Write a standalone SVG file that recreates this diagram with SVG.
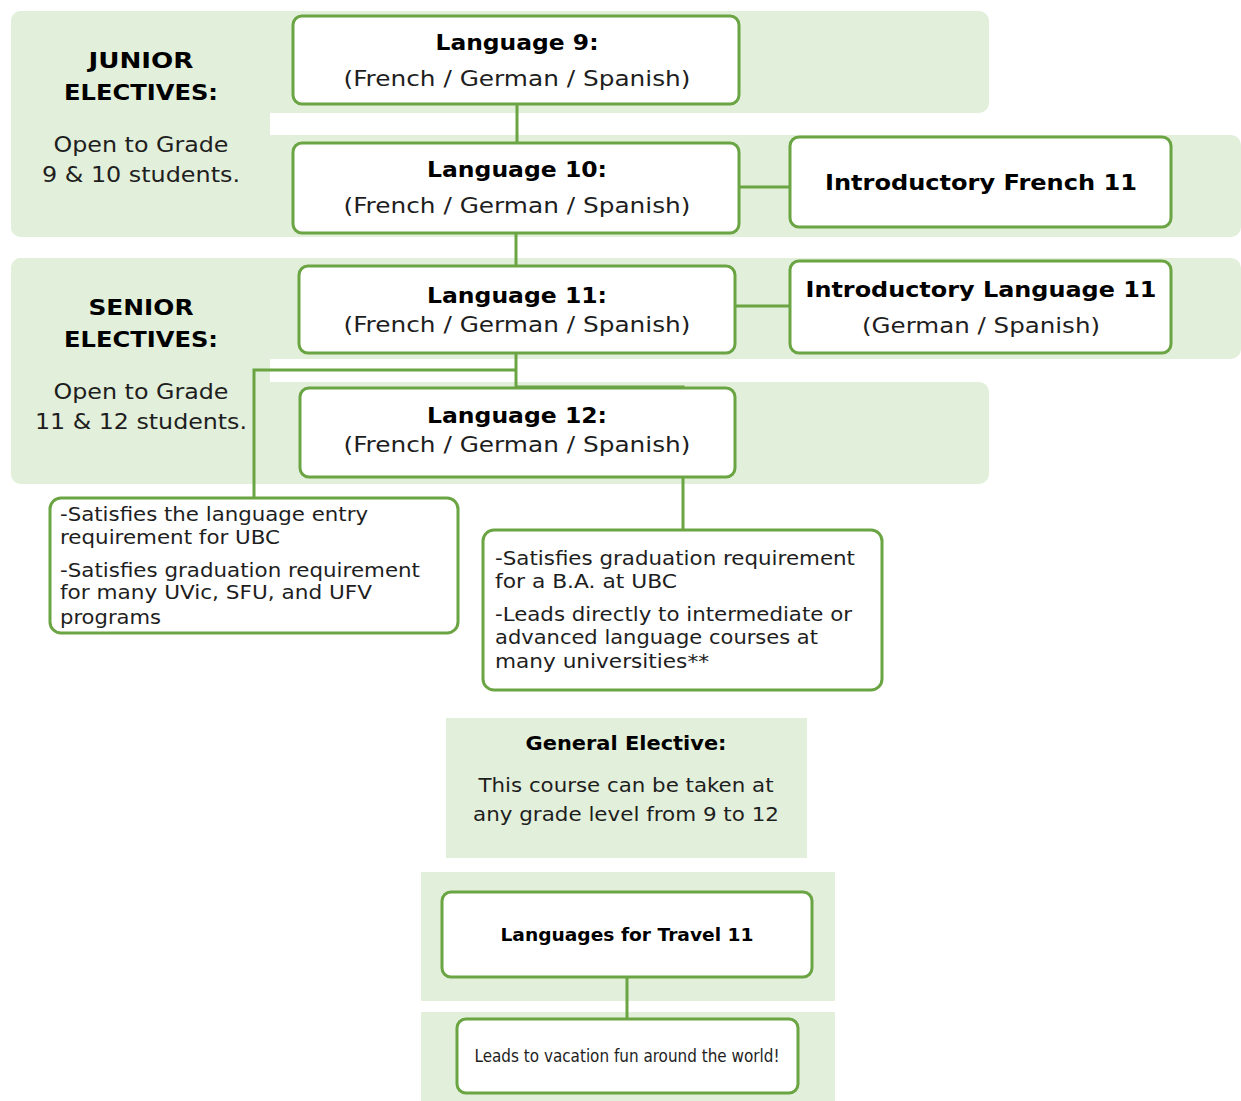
<svg xmlns="http://www.w3.org/2000/svg" width="1241" height="1101" viewBox="0 0 1241 1101">
<style>
.bg{fill:#e2efda}
.node{fill:#fff;stroke:#6aa443;stroke-width:3}
.con{fill:none;stroke:#6aa443;stroke-width:3}
text{font-family:"DejaVu Sans","Verdana",sans-serif;fill:#1e1e1e}
.b{font-weight:bold;fill:#000}
.t{font-size:22px}
.s{font-size:20px}
.c{text-anchor:middle}
</style>
<g id="backgrounds">
<rect class="bg" x="11" y="11" width="978" height="102" rx="10"/>
<rect class="bg" x="11" y="11" width="259" height="226" rx="10"/>
<rect class="bg" x="11" y="135" width="1230" height="102" rx="10"/>
<rect class="bg" x="11" y="258" width="1230" height="101" rx="10"/>
<rect class="bg" x="11" y="258" width="259" height="226" rx="10"/>
<rect class="bg" x="11" y="382" width="978" height="102" rx="10"/>
<rect class="bg" x="446" y="718" width="361" height="140"/>
<rect class="bg" x="421" y="872" width="414" height="129"/>
<rect class="bg" x="421" y="1012" width="414" height="89"/>
</g>
<g id="labels">
<text class="t b c" x="141" y="68" textLength="105" lengthAdjust="spacingAndGlyphs">JUNIOR</text>
<text class="t b c" x="141" y="100" textLength="154" lengthAdjust="spacingAndGlyphs">ELECTIVES:</text>
<text class="t c" x="141" y="152" textLength="175" lengthAdjust="spacingAndGlyphs">Open to Grade</text>
<text class="t c" x="141" y="182" textLength="198" lengthAdjust="spacingAndGlyphs">9 &amp; 10 students.</text>
<text class="t b c" x="141" y="315" textLength="105" lengthAdjust="spacingAndGlyphs">SENIOR</text>
<text class="t b c" x="141" y="347" textLength="154" lengthAdjust="spacingAndGlyphs">ELECTIVES:</text>
<text class="t c" x="141" y="399" textLength="175" lengthAdjust="spacingAndGlyphs">Open to Grade</text>
<text class="t c" x="141" y="429" textLength="212" lengthAdjust="spacingAndGlyphs">11 &amp; 12 students.</text>
<text class="b c" x="626" y="750" style="font-size:20px" textLength="201" lengthAdjust="spacingAndGlyphs">General Elective:</text>
<text class="c" x="626" y="792" style="font-size:20px" textLength="295" lengthAdjust="spacingAndGlyphs">This course can be taken at</text>
<text class="c" x="626" y="821" style="font-size:20px" textLength="306" lengthAdjust="spacingAndGlyphs">any grade level from 9 to 12</text>
</g>
<g id="connectors">
<path class="con" d="M517,104 V143"/>
<path class="con" d="M739,187 H790"/>
<path class="con" d="M516,233 V266"/>
<path class="con" d="M735,306 H790"/>
<path class="con" d="M516,353 V388"/>
<path class="con" d="M516,370 H254 V498"/>
<path class="con" d="M516,387 H683 V530"/>
<path class="con" d="M627,977 V1019"/>
</g>
<g id="lang9">
<rect class="node" x="293" y="16" width="446" height="88" rx="9"/>
<text class="t b c" x="517" y="50" textLength="163" lengthAdjust="spacingAndGlyphs">Language 9:</text>
<text class="t c" x="517" y="86" textLength="347" lengthAdjust="spacingAndGlyphs">(French / German / Spanish)</text>
</g>
<g id="lang10">
<rect class="node" x="293" y="143" width="446" height="90" rx="9"/>
<text class="t b c" x="517" y="177" textLength="180" lengthAdjust="spacingAndGlyphs">Language 10:</text>
<text class="t c" x="517" y="213" textLength="347" lengthAdjust="spacingAndGlyphs">(French / German / Spanish)</text>
</g>
<g id="introFrench11">
<rect class="node" x="790" y="137" width="381" height="90" rx="9"/>
<text class="t b c" x="981" y="190" textLength="312" lengthAdjust="spacingAndGlyphs">Introductory French 11</text>
</g>
<g id="lang11">
<rect class="node" x="299" y="266" width="436" height="87" rx="9"/>
<text class="t b c" x="517" y="303" textLength="180" lengthAdjust="spacingAndGlyphs">Language 11:</text>
<text class="t c" x="517" y="332" textLength="347" lengthAdjust="spacingAndGlyphs">(French / German / Spanish)</text>
</g>
<g id="introLang11">
<rect class="node" x="790" y="261" width="381" height="92" rx="9"/>
<text class="t b c" x="981" y="297" textLength="351" lengthAdjust="spacingAndGlyphs">Introductory Language 11</text>
<text class="t c" x="981" y="333" textLength="238" lengthAdjust="spacingAndGlyphs">(German / Spanish)</text>
</g>
<g id="lang12">
<rect class="node" x="300" y="388" width="435" height="89" rx="9"/>
<text class="t b c" x="517" y="423" textLength="180" lengthAdjust="spacingAndGlyphs">Language 12:</text>
<text class="t c" x="517" y="452" textLength="347" lengthAdjust="spacingAndGlyphs">(French / German / Spanish)</text>
</g>
<g id="ubcEntry">
<rect class="node" x="50" y="498" width="408" height="135" rx="11"/>
<text class="s" x="60" y="521" textLength="308" lengthAdjust="spacingAndGlyphs">-Satisfies the language entry</text>
<text class="s" x="60" y="544" textLength="220" lengthAdjust="spacingAndGlyphs">requirement for UBC</text>
<text class="s" x="60" y="577" textLength="360" lengthAdjust="spacingAndGlyphs">-Satisfies graduation requirement</text>
<text class="s" x="60" y="599" textLength="312" lengthAdjust="spacingAndGlyphs">for many UVic, SFU, and UFV</text>
<text class="s" x="60" y="624" textLength="101" lengthAdjust="spacingAndGlyphs">programs</text>
</g>
<g id="baGrad">
<rect class="node" x="483" y="530" width="399" height="160" rx="11"/>
<text class="s" x="495" y="565" textLength="360" lengthAdjust="spacingAndGlyphs">-Satisfies graduation requirement</text>
<text class="s" x="495" y="588" textLength="182" lengthAdjust="spacingAndGlyphs">for a B.A. at UBC</text>
<text class="s" x="495" y="621" textLength="357" lengthAdjust="spacingAndGlyphs">-Leads directly to intermediate or</text>
<text class="s" x="495" y="644" textLength="323" lengthAdjust="spacingAndGlyphs">advanced language courses at</text>
<text class="s" x="495" y="668" textLength="214" lengthAdjust="spacingAndGlyphs">many universities**</text>
</g>
<g id="travel11">
<rect class="node" x="442" y="892" width="370" height="85" rx="9"/>
<text class="b c" x="627" y="941" style="font-size:17px" textLength="253" lengthAdjust="spacingAndGlyphs">Languages for Travel 11</text>
</g>
<g id="vacation">
<rect class="node" x="457" y="1019" width="341" height="74" rx="9"/>
<text class="c" x="627" y="1062" style="font-size:17px;font-family:'DejaVu Sans Condensed','Liberation Sans Narrow',sans-serif;font-stretch:condensed" textLength="305" lengthAdjust="spacingAndGlyphs">Leads to vacation fun around the world!</text>
</g>
</svg>
